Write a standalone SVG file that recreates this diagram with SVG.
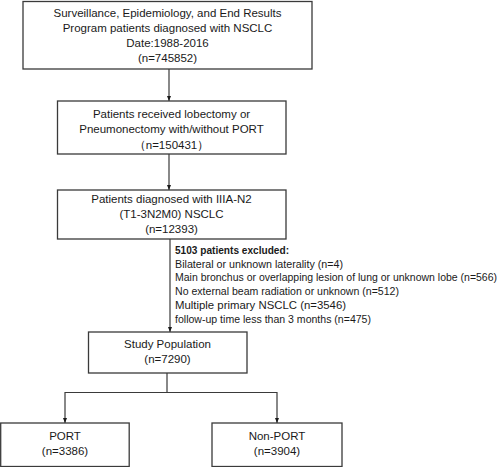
<svg xmlns="http://www.w3.org/2000/svg" width="500" height="467" viewBox="0 0 500 467">
<defs>
<style>
.box{fill:#fff;stroke:#3a3a3a;stroke-width:1.3}
.t{font-family:"Liberation Sans",Arial,sans-serif;font-size:11.5px;fill:#1a1a1a;text-anchor:middle}
.x{font-family:"Liberation Sans",Arial,sans-serif;font-size:11px;fill:#1a1a1a}
.c{fill:none;stroke:#3a3a3a;stroke-width:1.2}
</style>
<marker id="ah" markerWidth="5" markerHeight="4" refX="5" refY="2" orient="auto" markerUnits="userSpaceOnUse">
<path d="M0,0 L5,2 L0,4 Z" fill="#1a1a1a"/>
</marker>
</defs>
<rect width="500" height="467" fill="#fff"/>
<g id="connectors">
<line class="c" x1="169" y1="69" x2="169" y2="101" marker-end="url(#ah)"/>
<line class="c" x1="169" y1="154" x2="169" y2="190" marker-end="url(#ah)"/>
<line class="c" x1="170" y1="239" x2="170" y2="332" marker-end="url(#ah)"/>
<polyline class="c" points="167,373 167,392.5 65,392.5 65,423" marker-end="url(#ah)"/>
<polyline class="c" points="167,392.5 277,392.5 277,423" marker-end="url(#ah)"/>
</g>
<g id="seer">
<rect class="box" x="23" y="1.5" width="289" height="67.5"/>
<text class="t" x="167.5" y="17">Surveillance, Epidemiology, and End Results</text>
<text class="t" x="167.5" y="32">Program patients diagnosed with NSCLC</text>
<text class="t" x="167.5" y="47">Date:1988-2016</text>
<text class="t" x="167.5" y="62">(n=745852)</text>
</g>
<g id="lobectomy">
<rect class="box" x="57.5" y="101" width="228.5" height="53"/>
<text class="t" x="171.5" y="118">Patients received lobectomy or</text>
<text class="t" x="171.5" y="133">Pneumonectomy  with/without PORT</text>
<text class="t" x="171.5" y="149">（n=150431）</text>
</g>
<g id="iiia">
<rect class="box" x="57.5" y="190" width="228.5" height="49"/>
<text class="t" x="171.5" y="203">Patients diagnosed with IIIA-N2</text>
<text class="t" x="171.5" y="218">(T1-3N2M0) NSCLC</text>
<text class="t" x="171.5" y="233">(n=12393)</text>
</g>
<g id="excluded">
<text class="x" x="175" y="254" font-weight="bold" textLength="114" lengthAdjust="spacingAndGlyphs">5103 patients excluded:</text>
<text class="x" x="175" y="268" textLength="168" lengthAdjust="spacingAndGlyphs">Bilateral or unknown laterality (n=4)</text>
<text class="x" x="175" y="281" style="font-size:10px" textLength="322" lengthAdjust="spacingAndGlyphs">Main bronchus or overlapping lesion of lung or unknown lobe (n=566)</text>
<text class="x" x="175" y="295" textLength="224" lengthAdjust="spacingAndGlyphs">No external beam radiation or unknown (n=512)</text>
<text class="x" x="175" y="309" textLength="171" lengthAdjust="spacingAndGlyphs">Multiple primary NSCLC (n=3546)</text>
<text class="x" x="175" y="323" textLength="196" lengthAdjust="spacingAndGlyphs">follow-up time less than 3 months (n=475)</text>
</g>
<g id="study">
<rect class="box" x="88.5" y="332" width="158.5" height="41"/>
<text class="t" x="167.5" y="348">Study Population</text>
<text class="t" x="167.5" y="363">(n=7290)</text>
</g>
<g id="port">
<rect class="box" x="0.7" y="423" width="128.5" height="43.5"/>
<text class="t" x="65" y="440">PORT</text>
<text class="t" x="65" y="455">(n=3386)</text>
</g>
<g id="nonport">
<rect class="box" x="212" y="423" width="130" height="43.5"/>
<text class="t" x="277" y="440">Non-PORT</text>
<text class="t" x="277" y="455">(n=3904)</text>
</g>
</svg>
